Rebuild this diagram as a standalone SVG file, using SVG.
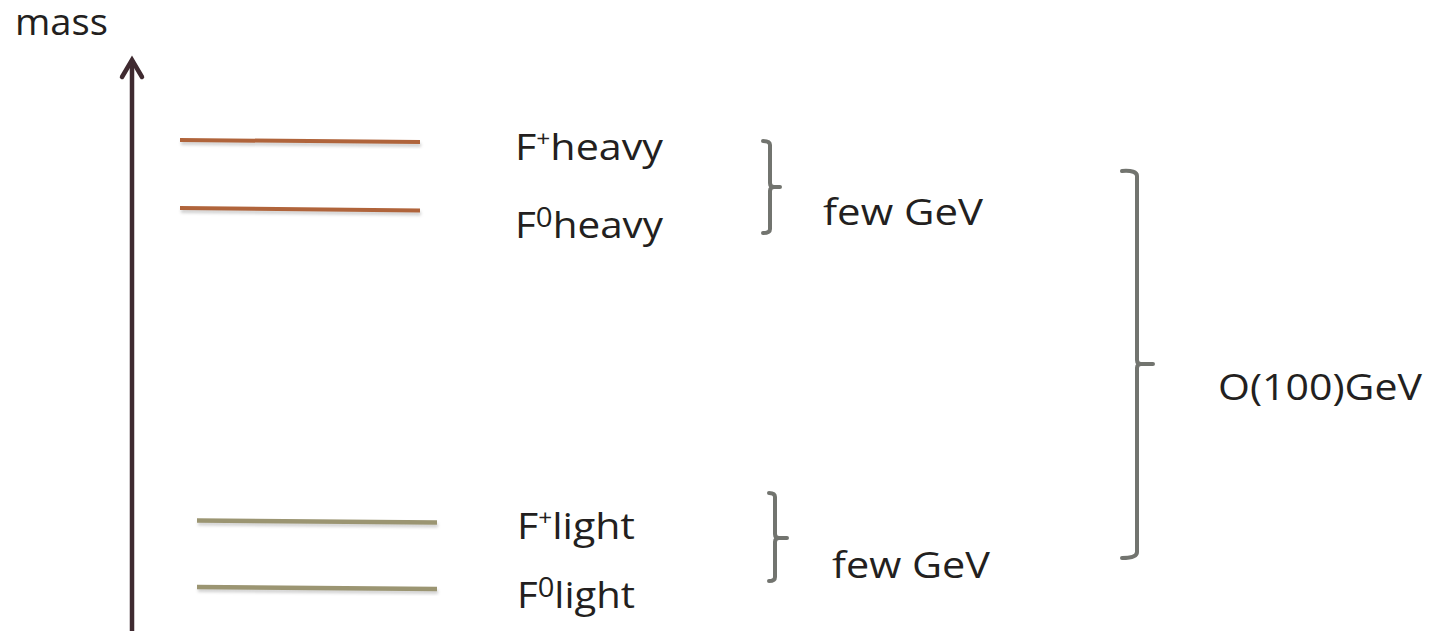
<svg xmlns="http://www.w3.org/2000/svg" width="1437" height="631" viewBox="0 0 1437 631">
  <defs>
    <style>
      .lbl { font-family: "Open Sans", "Noto Sans", "Liberation Sans", sans-serif; font-size: 37px; fill: #231f20; }
      .heavy { stroke: #b0643b; stroke-width: 4; stroke-linecap: butt; fill: none; }
      .light { stroke: #9b9572; stroke-width: 4.5; stroke-linecap: butt; fill: none; }
      .shadow { stroke: #000; stroke-opacity: 0.18; stroke-width: 4; fill: none; filter: url(#blur); }
      .brace { stroke: #72746f; stroke-width: 4; fill: none; stroke-linecap: round; stroke-linejoin: round; }
      .axis { stroke: #3f2a30; stroke-width: 4.5; fill: none; }
    </style>
    <filter id="blur" x="-5%" y="-200%" width="110%" height="500%">
      <feGaussianBlur stdDeviation="1.5"/>
    </filter>
  </defs>
  <rect width="1437" height="631" fill="#ffffff"/>

  <g id="connectors">
    <g id="axis">
      <line class="axis" x1="132" y1="631" x2="132" y2="60"/>
      <polyline class="axis" points="122,77 132,60 142,77" stroke-linecap="round" stroke-linejoin="miter"/>
    </g>
  </g>

  <g id="axis-label">
    <text class="lbl" x="15" y="35" textLength="93" lengthAdjust="spacingAndGlyphs">mass</text>
  </g>

  <g id="node-Fplus-heavy">
    <line class="shadow" x1="181" y1="143" x2="421" y2="145"/>
    <line class="heavy" x1="180" y1="140" x2="420" y2="142"/>
    <text class="lbl" x="515" y="160" textLength="148" lengthAdjust="spacingAndGlyphs">F<tspan font-size="22" dy="-14">+</tspan><tspan dy="14">heavy</tspan></text>
  </g>

  <g id="node-F0-heavy">
    <line class="shadow" x1="181" y1="211" x2="421" y2="213.5"/>
    <line class="heavy" x1="180" y1="208" x2="420" y2="210.5"/>
    <text class="lbl" x="515" y="238" textLength="148" lengthAdjust="spacingAndGlyphs">F<tspan font-size="27" dy="-11">0</tspan><tspan dy="11">heavy</tspan></text>
  </g>

  <g id="node-Fplus-light">
    <line class="shadow" x1="198" y1="523.5" x2="438" y2="525.5"/>
    <line class="light" x1="197" y1="520.5" x2="437" y2="522.5"/>
    <text class="lbl" x="517" y="539" textLength="118" lengthAdjust="spacingAndGlyphs">F<tspan font-size="22" dy="-14">+</tspan><tspan dy="14">light</tspan></text>
  </g>

  <g id="node-F0-light">
    <line class="shadow" x1="198" y1="590" x2="438" y2="592"/>
    <line class="light" x1="197" y1="587" x2="437" y2="589"/>
    <text class="lbl" x="517" y="608" textLength="118" lengthAdjust="spacingAndGlyphs">F<tspan font-size="27" dy="-11">0</tspan><tspan dy="11">light</tspan></text>
  </g>

  <g id="brace-heavy">
    <path class="brace" d="M763,141 Q770,141 770,145 L770,183 Q770,187 774,187 L780,187 M774,187 Q770,187 770,191 L770,229 Q770,233 763,233"/>
    <text class="lbl" x="823" y="225" textLength="160" lengthAdjust="spacingAndGlyphs">few GeV</text>
  </g>

  <g id="brace-light">
    <path class="brace" d="M769,493 Q775,493 775,497 L775,534 Q775,538 779,538 L787,538 M779,538 Q775,538 775,542 L775,577 Q775,581 769,581"/>
    <text class="lbl" x="832" y="578" textLength="158" lengthAdjust="spacingAndGlyphs">few GeV</text>
  </g>

  <g id="brace-total">
    <path class="brace" d="M1122,171 Q1137,170 1137,176 L1137,360 Q1137,364 1141,364 L1153,364 M1141,364 Q1137,364 1137,368 L1137,552 Q1137,558 1122,558"/>
    <text class="lbl" x="1218" y="400" textLength="204" lengthAdjust="spacingAndGlyphs">O(100)GeV</text>
  </g>
</svg>
